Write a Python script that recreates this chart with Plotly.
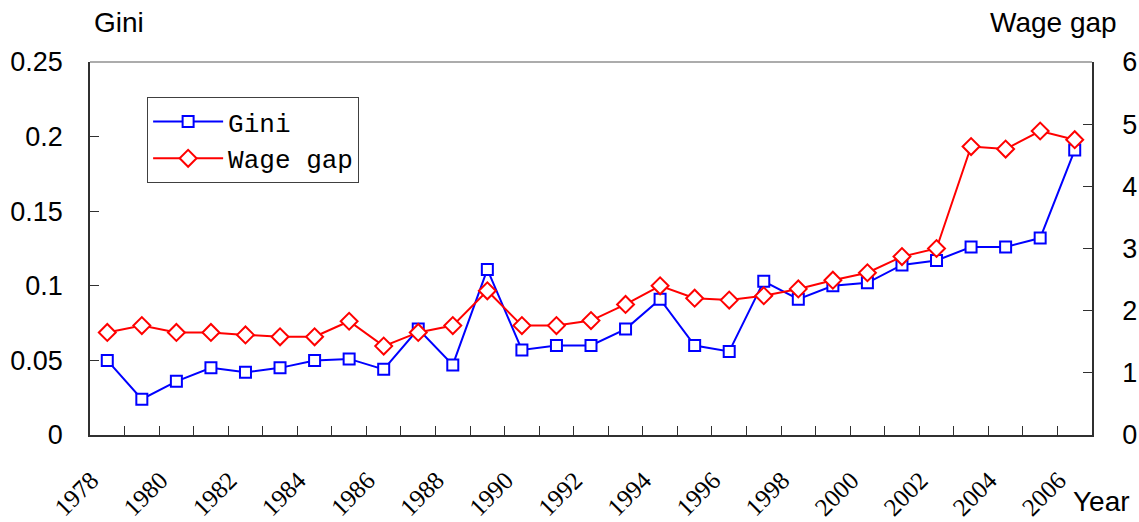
import plotly.graph_objects as go

years = list(range(1978, 2007))
gini = [0.050, 0.024, 0.036, 0.045, 0.042, 0.045, 0.050, 0.051, 0.044, 0.071,
        0.047, 0.111, 0.057, 0.060, 0.060, 0.071, 0.091, 0.060, 0.056, 0.103,
        0.091, 0.100, 0.102, 0.114, 0.117, 0.126, 0.126, 0.132, 0.191]
wage_gap = [1.65, 1.76, 1.65, 1.65, 1.61, 1.58, 1.58, 1.83, 1.43, 1.65,
            1.76, 2.32, 1.76, 1.76, 1.84, 2.10, 2.40, 2.20, 2.17, 2.24,
            2.35, 2.49, 2.61, 2.87, 3.00, 4.64, 4.60, 4.89, 4.75]
label_years = list(range(1978, 2007, 2))
boundaries = [y + 0.5 for y in range(1978, 2006)]

fig = go.Figure()
fig.add_trace(go.Scatter(
    x=years, y=gini, name="Gini", mode="lines+markers", legendgroup="a",
    line=dict(color="#0000FF", width=2),
    marker=dict(symbol="square", size=11, color="white", line=dict(color="#0000FF", width=2)),
))
fig.add_trace(go.Scatter(
    x=years, y=wage_gap, name="Wage gap", mode="lines+markers", yaxis="y2", legendgroup="b",
    line=dict(color="#FF0000", width=2),
    marker=dict(symbol="diamond", size=13, color="white", line=dict(color="#FF0000", width=2)),
))

axis_font = dict(family="Liberation Sans, Arial", size=27, color="black")
title_font = dict(family="Liberation Sans, Arial", size=28, color="black")

fig.update_layout(
    width=1139, height=522,
    margin=dict(l=90, r=47, t=62, b=87),
    paper_bgcolor="white", plot_bgcolor="white",
    showlegend=True,
    legend=dict(
        x=0.057, y=0.906, xanchor="left", yanchor="top",
        bordercolor="#404040", borderwidth=1, bgcolor="white",
        font=dict(family="Liberation Mono, monospace", size=26, color="black"),
        tracegroupgap=0, itemwidth=70,
    ),
    xaxis=dict(
        range=[1977.5, 2006.5], showgrid=False, zeroline=False, automargin=False,
        showline=True, linecolor="#303030", linewidth=1.5,
        tickmode="array", tickvals=label_years, ticktext=[str(y) for y in label_years],
        ticks="", tickangle=-45, ticklabelstandoff=19, ticklabelshift=-16,
        tickfont=dict(family="Liberation Serif, Times New Roman", size=25, color="black"),
        minor=dict(tickmode="array", tickvals=boundaries, ticks="inside", ticklen=9,
                   tickcolor="#303030", tickwidth=1),
    ),
    yaxis=dict(
        range=[0, 0.25], dtick=0.05, showgrid=False, zeroline=False, automargin=False,
        showline=True, linecolor="#303030", linewidth=1.5,
        ticks="inside", ticklen=9, tickcolor="#303030",
        tickfont=axis_font, ticklabelstandoff=20,
    ),
    yaxis2=dict(
        range=[0, 6], dtick=1, overlaying="y", side="right", showgrid=False, zeroline=False,
        automargin=False,
        showline=True, linecolor="#303030", linewidth=1.5,
        ticks="inside", ticklen=9, tickcolor="#303030",
        tickfont=axis_font, ticklabelstandoff=23,
    ),
    shapes=[dict(type="line", xref="paper", yref="paper", x0=0, x1=1, y0=1, y1=1,
                 line=dict(color="#909090", width=1.5))],
    annotations=[
        dict(text="Gini", xref="paper", yref="paper", x=0.029, y=1.107, showarrow=False,
             xanchor="center", yanchor="middle", font=title_font),
        dict(text="Wage gap", xref="paper", yref="paper", x=0.962, y=1.107, showarrow=False,
             xanchor="center", yanchor="middle", font=title_font),
        dict(text="Year", xref="paper", yref="paper", x=1.009, y=-0.177, showarrow=False,
             xanchor="center", yanchor="middle", font=title_font),
    ],
)

fig.write_html("out.html", post_script="document.body.style.margin='0';",
               config={"displayModeBar": False})
